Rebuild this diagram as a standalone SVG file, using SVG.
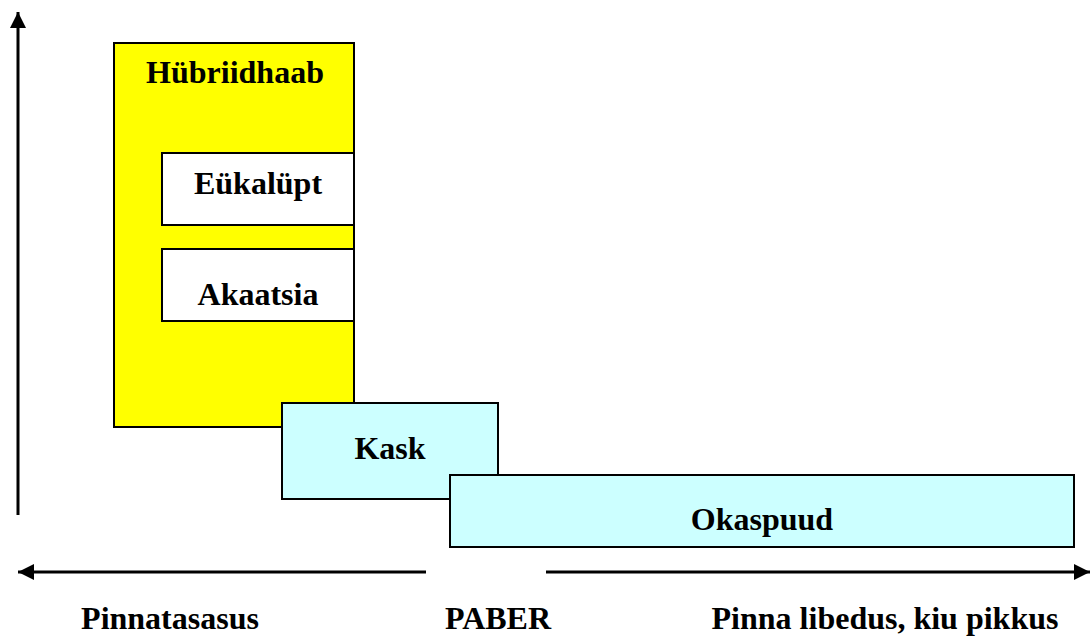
<svg xmlns="http://www.w3.org/2000/svg" width="1090" height="637" viewBox="0 0 1090 637">
<style>
.box{stroke:#000;stroke-width:2}
.t{font-family:"Liberation Serif","Times New Roman",serif;font-weight:bold;font-size:32px;fill:#000;text-anchor:middle}
.ax{stroke:#000;stroke-width:3;fill:none}
</style>
<defs>
<marker id="ah" viewBox="0 0 16 16" refX="16" refY="8" markerWidth="16" markerHeight="16" markerUnits="userSpaceOnUse" orient="auto">
<path d="M0,0 L16,8 L0,16 Z" fill="#000"/>
</marker>
</defs>
<rect width="1090" height="637" fill="#fff"/>
<g id="connectors">
<line class="ax" x1="18" y1="515" x2="18" y2="12" marker-end="url(#ah)"/>
<line class="ax" x1="426" y1="572" x2="18" y2="572" marker-end="url(#ah)"/>
<line class="ax" x1="546" y1="572" x2="1090" y2="572" marker-end="url(#ah)"/>
</g>
<g id="hybriidhaab">
<rect class="box" x="114" y="43" width="240" height="384" fill="#ffff00"/>
<text class="t" x="235" y="83">Hübriidhaab</text>
</g>
<g id="eukalupt">
<rect class="box" x="162" y="153" width="192" height="72" fill="#fff"/>
<text class="t" x="258" y="194">Eükalüpt</text>
</g>
<g id="akaatsia">
<rect class="box" x="162" y="249" width="192" height="72" fill="#fff"/>
<text class="t" x="258" y="305">Akaatsia</text>
</g>
<g id="kask">
<rect class="box" x="282" y="403" width="216" height="96" fill="#ccffff"/>
<text class="t" x="390" y="459">Kask</text>
</g>
<g id="okaspuud">
<rect class="box" x="450" y="475" width="624" height="72" fill="#ccffff"/>
<text class="t" x="762" y="530">Okaspuud</text>
</g>
<g id="labels">
<text class="t" x="170" y="629">Pinnatasasus</text>
<text class="t" x="498" y="629">PABER</text>
<text class="t" x="885" y="629">Pinna libedus, kiu pikkus</text>
</g>
</svg>
